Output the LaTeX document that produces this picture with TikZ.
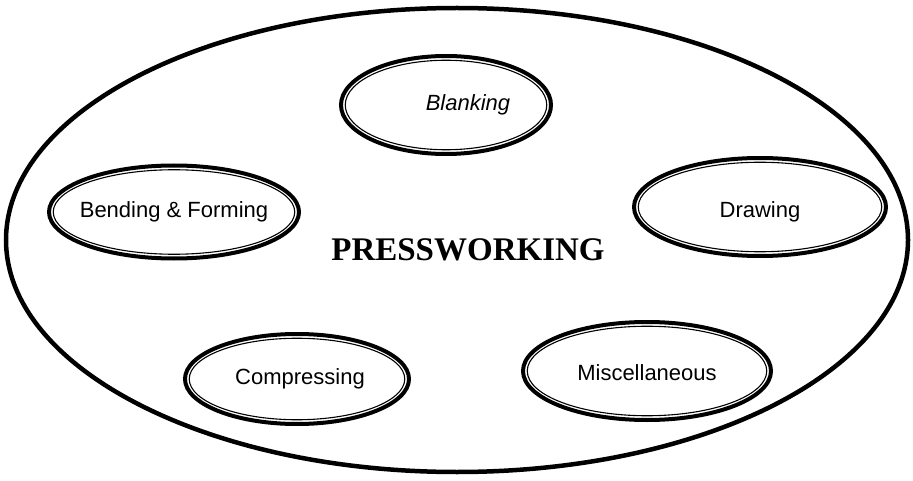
\documentclass[tikz,border=0pt]{standalone}
\usepackage{fontspec}
\setmainfont{Liberation Serif}
\newfontfamily\arialfont{Liberation Sans}
\usetikzlibrary{shapes.geometric}
\tikzset{help lines/.style={very thin,color=gray!50}}
\tikzset{process/.style={ellipse,draw=black,line width=4pt,inner sep=0pt}}
\tikzset{processring/.style={ellipse,draw=black,line width=1.1pt,inner sep=0pt}}
\tikzset{processtext/.style={font=\arialfont\fontsize{22}{24}\selectfont}}
\newcommand{\titlefont}{\bfseries\fontsize{33}{36}\selectfont}
% #1 name, #2 position, #3 width, #4 height, #5 text shift, #6 text
\newcommand{\procnode}[6]{%
	\node[process,minimum width=#3,minimum height=#4] (#1) at (#2) {};
	\node[processring,minimum width=#3-8.5,minimum height=#4-8.5] (#1-in) at (#1.center) {};
	\node[processtext] (#1-text) at ([shift={(#5)}]#1.center) {#6};}

\begin{document}
\begin{tikzpicture}[x=1pt,y=1pt]
	\useasboundingbox (0,0) rectangle (913,480);
	% \draw[help lines] (0,0) grid[step=50] (913,480); %grid
	\draw[line width=4.5pt] (457,240) ellipse (451 and 232); % outer
	\node (press) at (468,230) {\titlefont PRESSWORKING};

	\procnode{blank}{446,375}{210}{98}{22,0}{\itshape Blanking}
	\procnode{bend}{174,268}{250}{93}{0,0}{Bending \& Forming}
	\procnode{draw}{760,273}{252}{98}{0,-5}{Drawing}
	\procnode{compress}{297,101}{224}{90}{3,0}{Compressing}
	\procnode{misc}{647,109}{248}{98}{0,-2}{Miscellaneous}
\end{tikzpicture}
\end{document}
